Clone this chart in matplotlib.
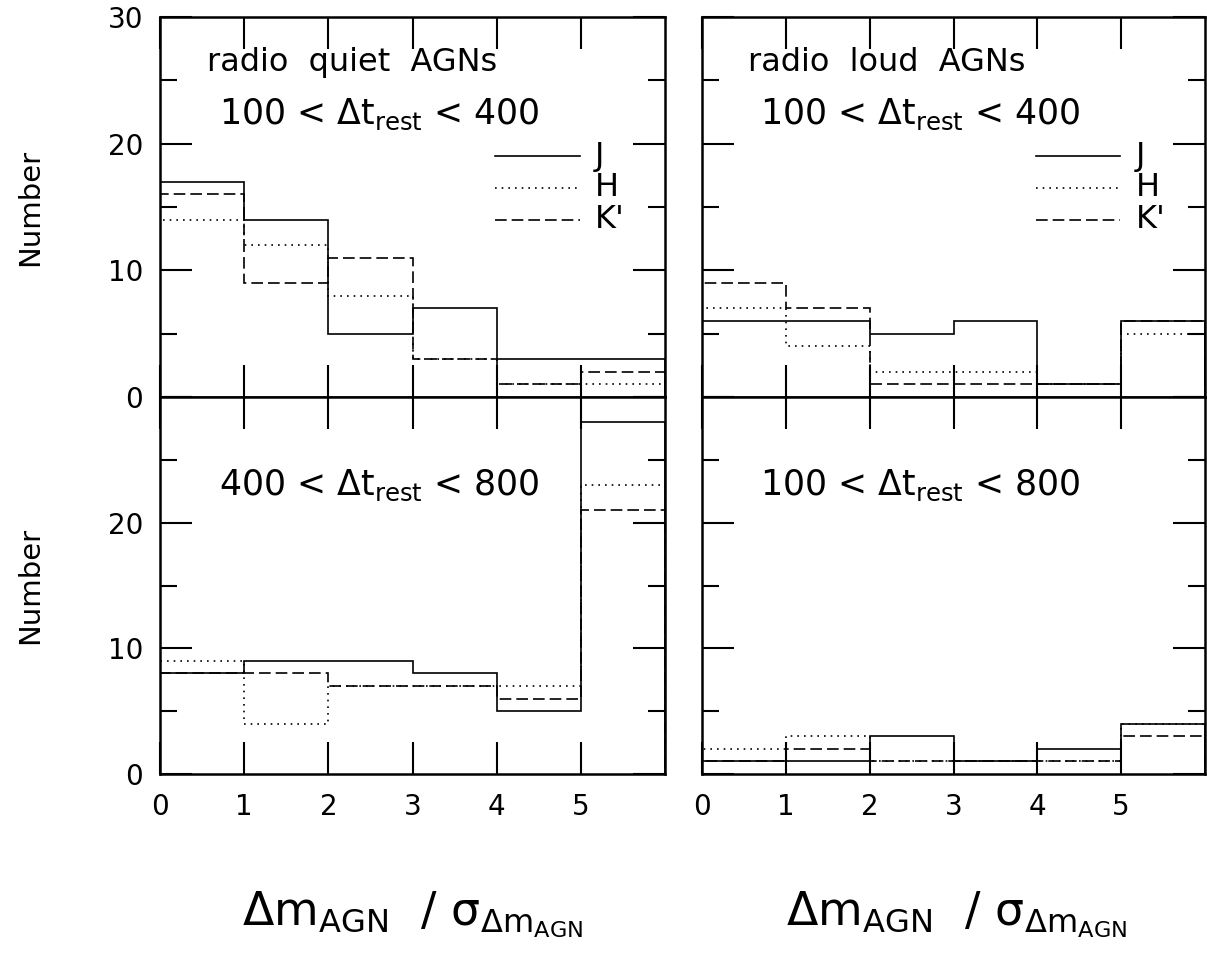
import numpy as np
import matplotlib
matplotlib.use("Agg")
import matplotlib.pyplot as plt

plt.rcParams['font.family'] = ['DejaVu Sans']
plt.rcParams['mathtext.fontset'] = 'dejavusans'
plt.rcParams['mathtext.default'] = 'regular'

edges = [0, 1, 2, 3, 4, 5, 6]
bands = ['J', 'H', "K'"]

# radio quiet, 100 < dt < 400
rq_short = {
    'J': [17, 14, 5, 7, 3, 3],
    'H': [14, 12, 8, 3, 1, 1],
    "K'": [16, 9, 11, 3, 1, 2],
}
# radio loud, 100 < dt < 400
rl_short = {
    'J': [6, 6, 5, 6, 1, 6],
    'H': [7, 4, 2, 2, 1, 5],
    "K'": [9, 7, 1, 1, 1, 6],
}
# radio quiet, 400 < dt < 800
rq_long = {
    'J': [8, 9, 9, 8, 5, 28],
    'H': [9, 4, 7, 7, 7, 23],
    "K'": [8, 8, 7, 7, 6, 21],
}
# radio loud, 100 < dt < 800
rl_long = {
    'J': [1, 1, 3, 1, 2, 4],
    'H': [2, 3, 1, 1, 1, 4],
    "K'": [1, 2, 1, 1, 1, 3],
}

styles = {'J': '-', 'H': (0, (1, 3)), "K'": (0, (7, 3))}

fig = plt.figure(figsize=(12.07, 9.56), dpi=100)
x0l, x1l = 160 / 1207, 665 / 1207
x0r, x1r = 702 / 1207, 1205 / 1207
ytop, ymid, ybot = 1 - 17 / 956, 1 - 397 / 956, 1 - 774 / 956

ax_tl = fig.add_axes([x0l, ymid, x1l - x0l, ytop - ymid])
ax_tr = fig.add_axes([x0r, ymid, x1r - x0r, ytop - ymid])
ax_bl = fig.add_axes([x0l, ybot, x1l - x0l, ymid - ybot])
ax_br = fig.add_axes([x0r, ybot, x1r - x0r, ymid - ybot])

panels = [(ax_tl, rq_short), (ax_tr, rl_short), (ax_bl, rq_long), (ax_br, rl_long)]
for ax, data in panels:
    for b in bands:
        ax.stairs(data[b], edges, color='black', linestyle=styles[b], linewidth=1.2)
    ax.set_xlim(0, 6)
    ax.set_ylim(0, 30)
    ax.set_xticks([0, 1, 2, 3, 4, 5])
    ax.set_yticks([0, 10, 20, 30])
    ax.set_yticks([5, 15, 25], minor=True)
    ax.tick_params(which='major', direction='in', length=23, width=1.5,
                   top=True, right=True, labelsize=20)
    ax.tick_params(axis='x', pad=14)
    ax.tick_params(axis='y', pad=12)
    ax.tick_params(which='minor', direction='in', length=12, width=1.5,
                   top=False, bottom=False, right=True, left=True)
    for s in ax.spines.values():
        s.set_linewidth(1.8)

for ax in (ax_tl, ax_tr):
    ax.tick_params(labelbottom=False)
for ax in (ax_tr, ax_br):
    ax.tick_params(labelleft=False)
ax_bl.set_yticks([0, 10, 20, 30], labels=['0', '10', '20', ''])

# legends drawn inside the top panels
for ax in (ax_tl, ax_tr):
    for i, b in enumerate(bands):
        yy = 19.0 - 2.5 * i
        ax.plot([3.98, 4.99], [yy, yy], color='black', linestyle=styles[b], linewidth=1.2)
        ax.text(5.17, yy, b, fontsize=23, va='center', ha='left')

ax_tl.text(0.56, 26.4, 'radio  quiet  AGNs', fontsize=23, va='center')
ax_tr.text(0.55, 26.4, 'radio  loud  AGNs', fontsize=23, va='center')
ax_tl.text(2.61, 22.3, r'100 < $\Delta t_{rest}$ < 400', fontsize=25, va='center', ha='center')
ax_tr.text(2.61, 22.3, r'100 < $\Delta t_{rest}$ < 400', fontsize=25, va='center', ha='center')
ax_bl.text(2.61, 23.0, r'400 < $\Delta t_{rest}$ < 800', fontsize=25, va='center', ha='center')
ax_br.text(2.61, 23.0, r'100 < $\Delta t_{rest}$ < 800', fontsize=25, va='center', ha='center')

fig.text(30 / 1207, 1 - 207 / 956, 'Number', rotation=90, fontsize=21, ha='center', va='center')
fig.text(30 / 1207, 1 - 585 / 956, 'Number', rotation=90, fontsize=21, ha='center', va='center')

xlab = r'$\Delta m_{AGN}\ \ /\ \sigma_{\Delta m_{AGN}}$'
fig.text(413 / 1207, 1 - 915 / 956, xlab, fontsize=33, ha='center', va='center')
fig.text(957 / 1207, 1 - 915 / 956, xlab, fontsize=33, ha='center', va='center')

fig.savefig('out.png', dpi=100)
